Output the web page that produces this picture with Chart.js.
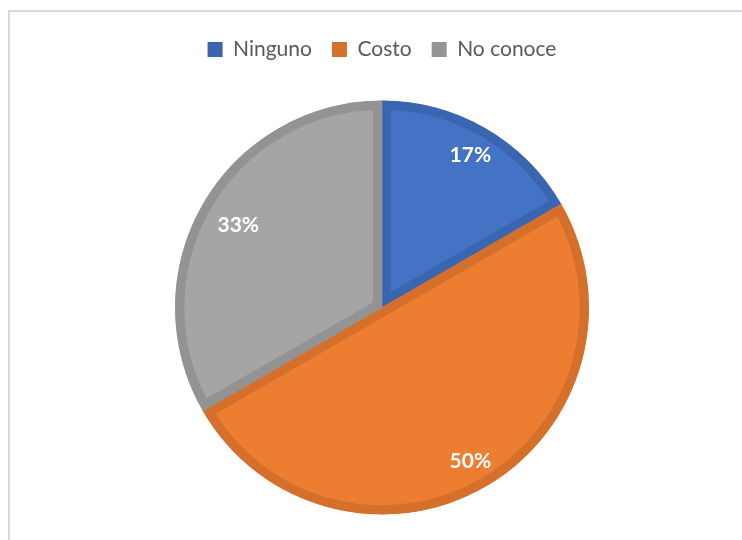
<!DOCTYPE html>
<html>
<head>
<meta charset="utf-8">
<script src="https://cdn.jsdelivr.net/npm/chart.js@4.4.1/dist/chart.umd.min.js"></script>
<style>
  html, body { margin: 0; padding: 0; background: #fff; overflow: hidden; }
  #wrap { position: relative; width: 742px; height: 540px; }
</style>
</head>
<body>
<div id="wrap"><canvas id="pie" width="742" height="540"></canvas></div>
<script>
const categories = ["Ninguno", "Costo", "No conoce"];
const shares = [16.67, 50, 33.33];
const fillColors = ["#4472C4", "#ED7D31", "#A5A5A5"];
const edgeColors = ["#3A66B1", "#D5702C", "#939393"];

// light grey frame of the chart box, runs off the right and bottom
const frame = {
  id: 'frame',
  beforeDraw(chart) {
    const ctx = chart.ctx;
    ctx.save();
    ctx.fillStyle = '#fff';
    ctx.fillRect(0, 0, chart.width, chart.height);
    ctx.strokeStyle = '#D9D9D9';
    ctx.lineWidth = 2;
    ctx.strokeRect(9, 11, 900, 700);
    ctx.restore();
  }
};

// extra room below the legend so the pie sits where it should
const legendGap = {
  id: 'legendGap',
  beforeInit(chart) {
    const fit = chart.legend.fit;
    chart.legend.fit = function () {
      fit.bind(chart.legend)();
      this.height += 30;
    };
  }
};

// percent labels, pushed in toward the rim like "inside end"
const pctLabels = {
  id: 'pctLabels',
  afterDatasetsDraw(chart) {
    const ctx = chart.ctx;
    const meta = chart.getDatasetMeta(0);
    const data = chart.data.datasets[0].data;
    const total = data.reduce((a, b) => a + b, 0);
    ctx.save();
    ctx.fillStyle = '#fff';
    ctx.font = 'bold 21px Lato';
    ctx.textAlign = 'center';
    ctx.textBaseline = 'middle';
    meta.data.forEach((arc, i) => {
      const p = arc.getProps(['x', 'y', 'startAngle', 'endAngle', 'outerRadius'], true);
      const mid = (p.startAngle + p.endAngle) / 2;
      const txt = Math.round(data[i] / total * 100) + '%';
      const w = ctx.measureText(txt).width;
      const r = p.outerRadius - 15.5 - Math.abs(Math.cos(mid)) * w * 0.71;
      ctx.fillText(txt, p.x + Math.cos(mid) * r, p.y + Math.sin(mid) * r + 1);
    });
    ctx.restore();
  }
};

new Chart(document.getElementById('pie').getContext('2d'), {
  type: 'pie',
  data: {
    labels: categories,
    datasets: [{
      data: shares,
      backgroundColor: fillColors,
      borderColor: edgeColors,
      borderWidth: 9,
      borderAlign: 'inner',
      borderJoinStyle: 'miter',
      hoverOffset: 0
    }]
  },
  options: {
    responsive: false,
    animation: false,
    layout: { padding: { top: 19, bottom: 25, left: 175, right: 153 } },
    plugins: {
      legend: {
        position: 'top',
        labels: {
          boxWidth: 15,
          boxHeight: 15,
          padding: 20,
          color: '#595959',
          font: { family: 'Lato', size: 21 },
          generateLabels(chart) {
            return chart.data.labels.map((t, i) => ({
              text: t,
              fillStyle: edgeColors[i],
              strokeStyle: edgeColors[i],
              lineWidth: 0,
              fontColor: '#595959',
              hidden: false,
              index: i
            }));
          }
        }
      },
      tooltip: { enabled: false }
    }
  },
  plugins: [frame, legendGap, pctLabels]
});
</script>
</body>
</html>
